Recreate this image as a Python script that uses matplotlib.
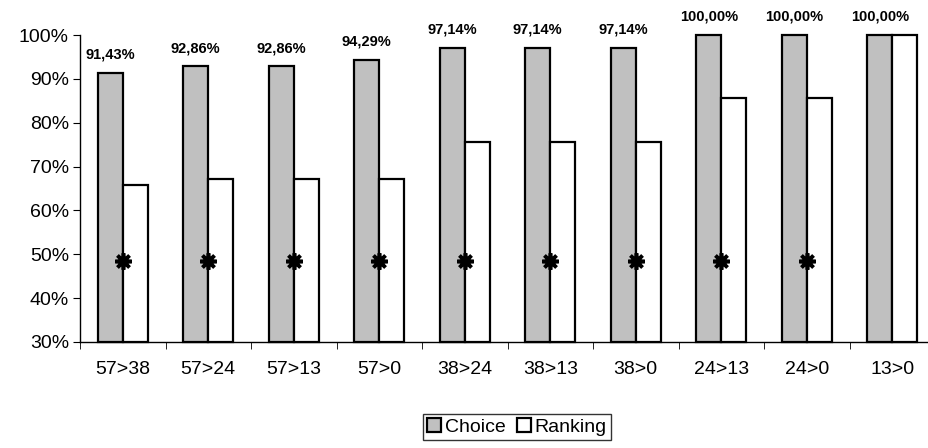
import matplotlib.pyplot as plt
import numpy as np

plt.rcParams['font.family'] = ['Liberation Sans', 'DejaVu Sans']

# Pairwise comparisons and agreement rates (%)
pairs = ['57>38', '57>24', '57>13', '57>0', '38>24', '38>13', '38>0', '24>13', '24>0', '13>0']
choice = [91.43, 92.86, 92.86, 94.29, 97.14, 97.14, 97.14, 100.0, 100.0, 100.0]
ranking = [65.71, 67.14, 67.14, 67.14, 75.71, 75.71, 75.71, 85.71, 85.71, 100.0]
choice_labels = ['91,43%', '92,86%', '92,86%', '94,29%', '97,14%', '97,14%', '97,14%',
                 '100,00%', '100,00%', '100,00%']
# significant difference markers
significant = [True, True, True, True, True, True, True, True, True, False]
star_level = 48.4
base = 30

fig = plt.figure(figsize=(9.29, 4.48), dpi=100)
ax = fig.add_axes([80 / 929, 1 - 342 / 448, 855 / 929, 307 / 448])

x = np.arange(len(pairs))
w = 0.293
b1 = ax.bar(x - w / 2, np.array(choice) - base, width=w, bottom=base, color='#C0C0C0',
            edgecolor='black', linewidth=1.6, label='Choice')
b2 = ax.bar(x + w / 2, np.array(ranking) - base, width=w, bottom=base, color='white',
            edgecolor='black', linewidth=1.6, label='Ranking')
for p in list(b1) + list(b2):
    p.set_clip_on(False)

for xi, v, lab in zip(x, choice, choice_labels):
    ax.annotate(lab, (xi - w / 2, v), xytext=(0, 13), textcoords='offset points',
                ha='center', va='center', fontsize=10.5, fontweight='bold', clip_on=False)

sx = [xi for xi, s in zip(x, significant) if s]
ax.plot(sx, [star_level] * len(sx), linestyle='none', marker=(8, 2, 0),
        markersize=12, markeredgewidth=2.6, color='black', zorder=5)
ax.plot(sx, [star_level] * len(sx), linestyle='none', marker='o',
        markersize=6, color='black', zorder=5)

ax.set_ylim(30, 100)
ax.set_xlim(-0.5, 9.5)
ax.set_yticks(range(30, 101, 10))
ax.set_yticklabels([f'{v}%' for v in range(30, 101, 10)], fontsize=14)
ax.set_xticks(x)
ax.set_xticklabels(pairs, fontsize=14)
ax.set_xticks(np.arange(-0.5, 10, 1), minor=True)
ax.tick_params(axis='x', which='major', length=0, pad=14)
ax.tick_params(axis='x', which='minor', length=5, direction='out')
ax.tick_params(axis='y', length=5, direction='out', pad=3)
for s in ['top', 'right']:
    ax.spines[s].set_visible(False)
ax.spines['left'].set_linewidth(1.0)
ax.spines['bottom'].set_linewidth(1.0)

leg = fig.legend(loc='center', bbox_to_anchor=(517 / 929, 1 - 427 / 448), ncol=2,
                 fontsize=14, frameon=True, fancybox=False, edgecolor='black',
                 handlelength=0.7, handleheight=0.7, handletextpad=0.2,
                 columnspacing=0.6, borderpad=0.2, borderaxespad=0)
leg.get_frame().set_linewidth(1.0)

fig.savefig('out.png', dpi=100)
